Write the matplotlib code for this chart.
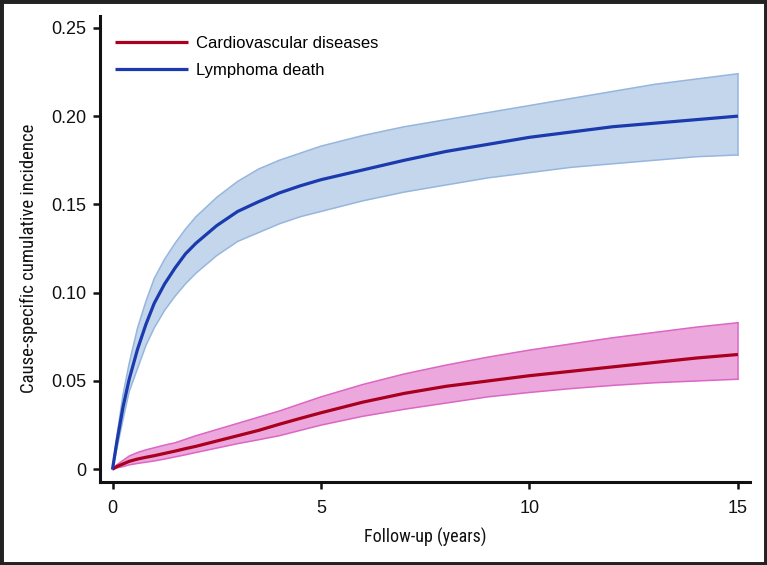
import matplotlib
matplotlib.use("Agg")
import matplotlib.pyplot as plt
from matplotlib.patches import Rectangle
from matplotlib import font_manager

years = [0, 0.1, 0.25, 0.4, 0.6, 0.8, 1, 1.25, 1.5, 1.75, 2, 2.5, 3, 3.5, 4, 4.5, 5,
         6, 7, 8, 9, 10, 11, 12, 13, 14, 15]

lymph = [0, 0.015, 0.035, 0.051, 0.068, 0.082, 0.094, 0.105, 0.114, 0.122, 0.128, 0.138,
         0.146, 0.1515, 0.1565, 0.1605, 0.164, 0.1695, 0.175, 0.180, 0.184, 0.188, 0.191,
         0.194, 0.196, 0.198, 0.200]
lymph_hi = [0, 0.018, 0.042, 0.060, 0.080, 0.095, 0.108, 0.119, 0.128, 0.136, 0.143, 0.154,
            0.163, 0.170, 0.175, 0.179, 0.183, 0.189, 0.194, 0.198, 0.202, 0.206, 0.210,
            0.214, 0.218, 0.221, 0.224]
lymph_lo = [0, 0.011, 0.028, 0.044, 0.057, 0.070, 0.080, 0.090, 0.098, 0.105, 0.111, 0.121,
            0.129, 0.134, 0.139, 0.143, 0.146, 0.152, 0.157, 0.161, 0.165, 0.168, 0.171,
            0.173, 0.175, 0.177, 0.178]

cvd = [0, 0.0015, 0.003, 0.0045, 0.0058, 0.0068, 0.0077, 0.009, 0.0103, 0.0117, 0.013,
       0.016, 0.019, 0.022, 0.0255, 0.0288, 0.032, 0.038, 0.043, 0.047, 0.050, 0.053,
       0.0555, 0.058, 0.0605, 0.063, 0.065]
cvd_hi = [0, 0.0025, 0.005, 0.0075, 0.0095, 0.011, 0.0122, 0.0137, 0.015, 0.017, 0.019,
          0.0225, 0.026, 0.0295, 0.033, 0.037, 0.041, 0.048, 0.054, 0.059, 0.0635, 0.0675,
          0.071, 0.0745, 0.0775, 0.0805, 0.083]
cvd_lo = [0, 0.0007, 0.0015, 0.0025, 0.0033, 0.004, 0.0047, 0.0058, 0.007, 0.0082, 0.0095,
          0.012, 0.0145, 0.0167, 0.019, 0.022, 0.025, 0.030, 0.034, 0.0375, 0.041, 0.0435,
          0.0457, 0.0475, 0.049, 0.050, 0.051]

xticks = [0, 5, 10, 15]
yticks = [0, 0.05, 0.10, 0.15, 0.20, 0.25]
ytick_labels = ["0", "0.05", "0.10", "0.15", "0.20", "0.25"]

available = {f.name for f in font_manager.fontManager.ttflist}
cond_family = ["DejaVu Sans"]
cond_stretch = "condensed"
for cand in ["Liberation Sans Narrow", "Roboto Condensed", "Open Sans Condensed"]:
    if cand in available:
        cond_family = [cand, "DejaVu Sans"]
        break
main_family = ["Liberation Sans", "DejaVu Sans"]

W, H = 767, 565
fig = plt.figure(figsize=(W / 100, H / 100), dpi=100)
ax = fig.add_axes([100 / W, 1 - 482 / H, 650 / W, 466 / H])

band_blue_edge = "#96b6de"
band_pink_edge = "#dc66c4"
ax.fill_between(years, lymph_lo, lymph_hi, facecolor="#c4d6eb", edgecolor="none", zorder=1)
ax.plot(years, lymph_hi, color=band_blue_edge, lw=1.1, zorder=2)
ax.plot(years, lymph_lo, color=band_blue_edge, lw=1.1, zorder=2)
ax.plot([years[-1], years[-1]], [lymph_lo[-1], lymph_hi[-1]], color=band_blue_edge, lw=1.1, zorder=2)

ax.fill_between(years, cvd_lo, cvd_hi, facecolor="#eca8dd", edgecolor="none", zorder=1)
ax.plot(years, cvd_hi, color=band_pink_edge, lw=1.1, zorder=2)
ax.plot(years, cvd_lo, color=band_pink_edge, lw=1.1, zorder=2)
ax.plot([years[-1], years[-1]], [cvd_lo[-1], cvd_hi[-1]], color=band_pink_edge, lw=1.1, zorder=2)

ax.plot(years, cvd, color="#a8001e", lw=2.3, zorder=3, label="Cardiovascular diseases",
        solid_capstyle="butt")
ax.plot(years, lymph, color="#1a3aad", lw=2.3, zorder=3, label="Lymphoma death",
        solid_capstyle="butt")

ax.set_xlim(-0.30, 15.29)
ax.set_ylim(-0.0072, 0.2567)
ax.set_xticks(xticks)
ax.set_xticklabels([str(t) for t in xticks])
ax.set_yticks(yticks)
ax.set_yticklabels(ytick_labels)

for s in ["top", "right"]:
    ax.spines[s].set_visible(False)
for s in ["left", "bottom"]:
    ax.spines[s].set_linewidth(2.2)
    ax.spines[s].set_color("#111111")
ax.tick_params(axis="both", direction="out", length=5, width=1.8, color="#111111",
               labelsize=13, labelcolor="#111111")
ax.tick_params(axis="x", pad=8)
ax.tick_params(axis="y", pad=5)
for lab in ax.get_xticklabels() + ax.get_yticklabels():
    lab.set_fontfamily(main_family)

ax.set_xlabel("Follow-up (years)", fontsize=13, family=cond_family, stretch=cond_stretch,
              color="#111111")
ax.set_ylabel("Cause-specific cumulative incidence", fontsize=13.5, family=cond_family,
              stretch=cond_stretch, color="#111111")
ax.xaxis.set_label_coords(0.5, -(528 - 482) / 466)
ax.yaxis.set_label_coords(-(100 - 38) / 650, 0.5 - (258 - 249) / 466)

leg = ax.legend(loc="upper left", frameon=False, prop={"family": main_family, "size": 12},
                handlelength=4.4, handletextpad=0.5, labelspacing=0.75,
                bbox_to_anchor=(8 / 650, 1 - 13 / 466), borderaxespad=0)

fig.patches.append(Rectangle((0, 0), 1, 1, transform=fig.transFigure, fill=False,
                             edgecolor="#222222", lw=5, zorder=10))

fig.savefig("out.png", dpi=100)
